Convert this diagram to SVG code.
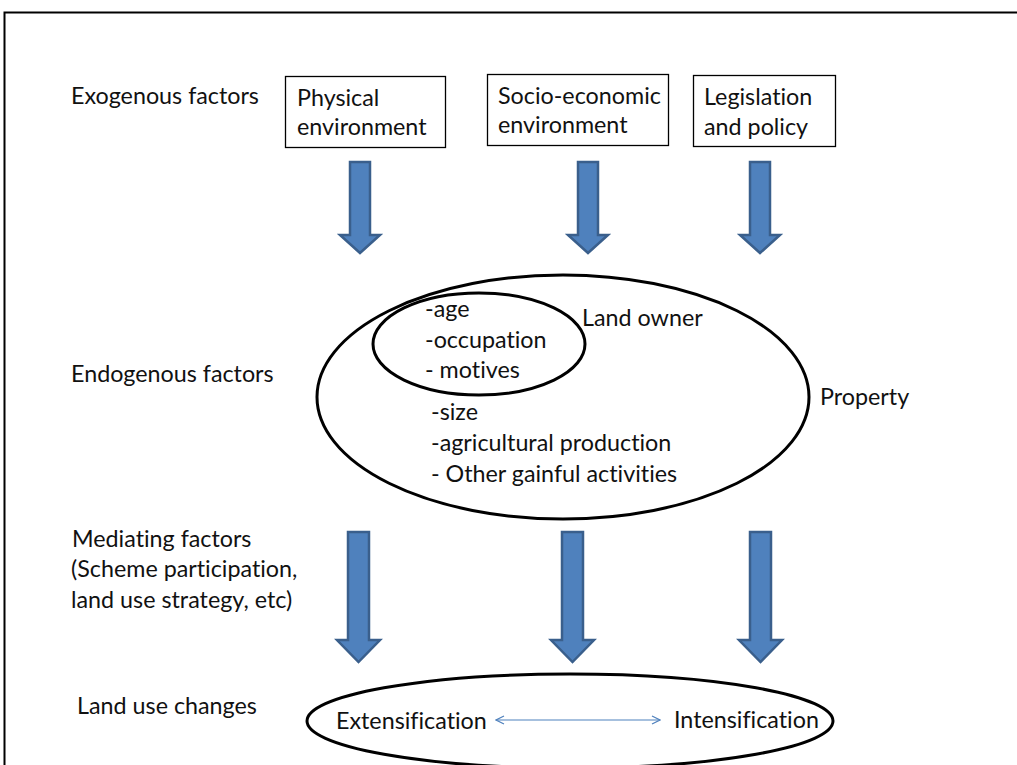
<svg xmlns="http://www.w3.org/2000/svg" width="1017" height="765" viewBox="0 0 1017 765">
<defs>
<style>
.t{font-family:"Lato","Liberation Sans",sans-serif;font-size:23.3px;fill:#111;font-variant-ligatures:none;}
.box{fill:#fff;stroke:#000;stroke-width:1.3;}
.arr{fill:#4f81bd;stroke:#3a5f8c;stroke-width:2.5;stroke-linejoin:miter;}
.ell{fill:none;stroke:#000;stroke-width:3;}
</style>
<marker id="ah" viewBox="0 0 10 10" refX="9" refY="5" markerWidth="10" markerHeight="10" orient="auto-start-reverse" markerUnits="userSpaceOnUse">
<path d="M1,1 L9,5 L1,9" fill="none" stroke="#4f81bd" stroke-width="1.2"/>
</marker>
</defs>
<rect x="0" y="0" width="1017" height="765" fill="#fff"/>
<path d="M4.5,765 V12.5 H1017" fill="none" stroke="#000" stroke-width="2"/>

<g id="labels">
<text class="t" x="71" y="104">Exogenous factors</text>
<text class="t" x="71" y="382">Endogenous factors</text>
<text class="t" x="72" y="547">Mediating factors</text>
<text class="t" x="71" y="577">(Scheme participation,</text>
<text class="t" x="71" y="608">land use strategy, etc)</text>
<text class="t" x="77" y="714">Land use changes</text>
</g>

<g id="physical">
<rect class="box" x="285.5" y="76.5" width="160" height="71"/>
<text class="t" x="297" y="106">Physical</text>
<text class="t" x="297" y="135">environment</text>
</g>
<g id="socioeconomic">
<rect class="box" x="487.5" y="74.5" width="181" height="71"/>
<text class="t" x="498" y="104">Socio-economic</text>
<text class="t" x="498" y="133">environment</text>
</g>
<g id="legislation">
<rect class="box" x="693.5" y="75.5" width="142" height="71"/>
<text class="t" x="704" y="105">Legislation</text>
<text class="t" x="704" y="135">and policy</text>
</g>

<g id="property">
<ellipse class="ell" cx="563" cy="397" rx="246" ry="122"/>
<text class="t" x="820" y="405">Property</text>
<text class="t" x="431" y="420">-size</text>
<text class="t" x="431" y="451">-agricultural production</text>
<text class="t" x="431" y="482">- Other gainful activities</text>
</g>
<g id="landowner">
<ellipse class="ell" cx="479" cy="344" rx="106" ry="51"/>
<text class="t" x="582" y="326">Land owner</text>
<text class="t" x="425" y="317">-age</text>
<text class="t" x="425" y="348">-occupation</text>
<text class="t" x="425" y="378">- motives</text>
</g>

<g id="landusechanges">
<ellipse class="ell" cx="570" cy="721" rx="263" ry="47"/>
<text class="t" x="336" y="729">Extensification</text>
<text class="t" x="674" y="728">Intensification</text>
</g>

<g id="connectors">
<path class="arr" d="M350,162 H370 V235 H380 L360,253 L340,235 H350 Z"/>
<path class="arr" d="M578,162 H598 V235 H608 L588,253 L568,235 H578 Z"/>
<path class="arr" d="M750,162 H770 V235 H780 L760,253 L740,235 H750 Z"/>
<path class="arr" d="M348,532 H369 V640 H380 L358.5,662 L337,640 H348 Z"/>
<path class="arr" d="M562,532 H583 V640 H594 L572.5,662 L551,640 H562 Z"/>
<path class="arr" d="M750,532 H771 V640 H782 L760.5,662 L739,640 H750 Z"/>
<line x1="496" y1="720" x2="660" y2="720" stroke="#4f81bd" stroke-width="1.2" marker-start="url(#ah)" marker-end="url(#ah)"/>
</g>
</svg>
